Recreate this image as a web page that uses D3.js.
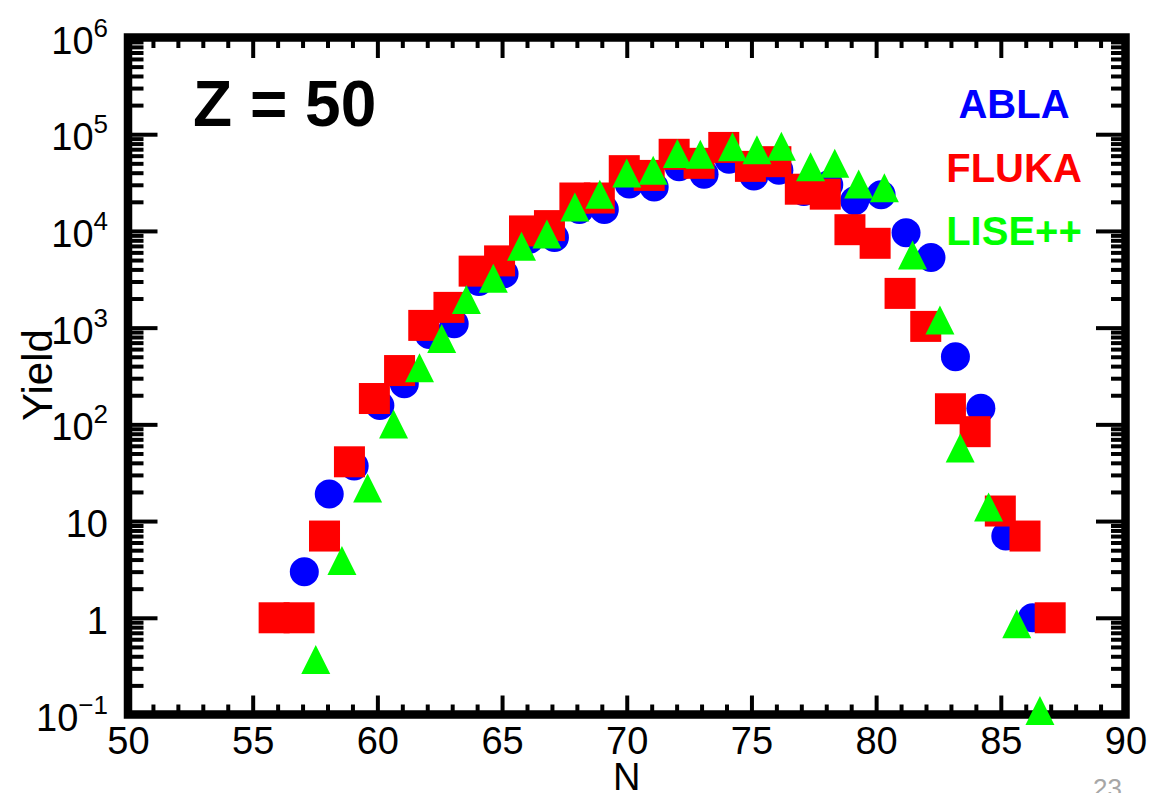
<!DOCTYPE html>
<html><head><meta charset="utf-8">
<script src="https://cdn.jsdelivr.net/npm/d3@7"></script>
<style>
body{margin:0;background:#fff}
svg{display:block}
text{font-family:"Liberation Sans",Arial,Helvetica,sans-serif}
</style>
</head><body>
<svg id="chart" width="1149" height="793"></svg>
<script>
// ---- data ----
const xTickLabels = [50,55,60,65,70,75,80,85,90];
const yTickExponents = [-1,0,1,2,3,4,5,6];
const seriesNames = ["ABLA","FLUKA","LISE++"];
const seriesColors = ["#0000ff","#ff0000","#00ff00"];

const ablaN = [57.07,58.07,59.07,60.1,61.08,62.08,63.08,64.07,65.08,66.1,67.1,68.1,69.1,70.1,71.1,72.1,73.1,74.1,75.1,76.1,77.1,78.1,79.14,80.2,81.2,82.2,83.18,84.2,85.2,86.27];
const ablaYield = [3,19,37,157,263,850,1100,3000,3600,8200,8550,16700,16700,30500,28500,46000,38500,55000,37000,42500,25500,30000,20500,23700,9600,5300,500,147,7,1];

const flukaN = [55.86,56.86,57.88,58.88,59.88,60.89,61.86,62.87,63.88,64.9,65.9,66.9,67.92,68.9,69.9,70.9,71.9,72.9,73.89,74.96,75.98,76.96,77.96,78.95,79.96,80.96,81.99,82.98,83.97,84.98,85.97,86.98];
const flukaYield = [1,1,7,41,185,360,1055,1620,3840,4900,10000,11350,21900,21900,42000,37500,62000,50000,73000,46500,52000,27000,24000,10300,7450,2260,1030,145,84,12.7,7,1];

const liseN = [57.53,58.58,59.61,60.65,61.69,62.58,63.57,64.65,65.78,66.8,67.92,68.92,70.0,71.06,72.03,72.95,74.24,75.22,76.2,77.37,78.34,79.3,80.33,81.46,82.56,83.37,84.51,85.64,86.57];
const liseYield = [0.37,3.9,22,101,385,770,1960,3250,6950,9300,17700,24000,39600,42500,63000,62000,74000,69000,75000,46000,50000,30600,28000,5650,1200,57,14,0.87,0.11];

// ---- chart ----
const svg = d3.select("#chart");
svg.append("rect").attr("width",1149).attr("height",793).attr("fill","#fff");

const x = d3.scaleLinear().domain([50,90]).range([128,1125.5]);
const y = d3.scaleLog().domain([0.1,1e6]).range([714.5,37.5]);
const [x0,x1] = x.range();
const [yB,yT] = y.range();

const minorX = d3.range(50,91).filter(d => d % 5 !== 0);
const majorY = yTickExponents.map(e => Math.pow(10,e));
const minorY = [];
for (let e=-1;e<6;e++) for (let m=2;m<=9;m++) minorY.push(m*Math.pow(10,e));

function styleAxis(g){
  g.select(".domain").remove();
  g.selectAll(".tick line").attr("stroke","#000").attr("stroke-width",4);
}

// frame
svg.append("rect").attr("x",x0).attr("y",yT).attr("width",x1-x0).attr("height",yB-yT)
  .attr("fill","none").attr("stroke","#000").attr("stroke-width",8.5);

// bottom axis
svg.append("g").attr("transform",`translate(0,${yB})`)
  .call(d3.axisBottom(x).tickValues(minorX).tickSize(-10).tickFormat("")).call(styleAxis);
const bx = svg.append("g").attr("transform",`translate(0,${yB})`)
  .call(d3.axisBottom(x).tickValues(xTickLabels).tickSize(-19).tickPadding(13).tickFormat(d3.format("d")))
  .call(styleAxis);
bx.attr("font-size",38).attr("font-family",null);
bx.selectAll(".tick text").attr("fill","#000");
// top axis
svg.append("g").attr("transform",`translate(0,${yT})`)
  .call(d3.axisTop(x).tickValues(minorX).tickSize(-10.5).tickFormat("")).call(styleAxis);
svg.append("g").attr("transform",`translate(0,${yT})`)
  .call(d3.axisTop(x).tickValues(xTickLabels).tickSize(-20.5).tickFormat("")).call(styleAxis);
// left axis
svg.append("g").attr("transform",`translate(${x0},0)`)
  .call(d3.axisLeft(y).tickValues(minorY).tickSize(-15.5).tickFormat("")).call(styleAxis);
svg.append("g").attr("transform",`translate(${x0},0)`)
  .call(d3.axisLeft(y).tickValues(majorY).tickSize(-29.5).tickFormat("")).call(styleAxis);
// right axis
svg.append("g").attr("transform",`translate(${x1},0)`)
  .call(d3.axisRight(y).tickValues(minorY).tickSize(-14.5).tickFormat("")).call(styleAxis);
svg.append("g").attr("transform",`translate(${x1},0)`)
  .call(d3.axisRight(y).tickValues(majorY).tickSize(-29.5).tickFormat("")).call(styleAxis);

// y tick labels with superscripts
const yl = svg.append("g").attr("font-size",38).attr("text-anchor","end").attr("fill","#000");
yTickExponents.forEach(e => {
  const t = yl.append("text").attr("x",108).attr("y",y(Math.pow(10,e))+16);
  if (e===0) t.text("1");
  else if (e===1) t.text("10");
  else {
    t.append("tspan").text("10");
    t.append("tspan").attr("dy",-17).attr("font-size",26).text(e<0 ? "\u2212"+(-e) : String(e));
  }
});

// axis titles
svg.append("text").attr("x",x(70)).attr("y",790).attr("text-anchor","middle")
  .attr("font-size",38).text("N");
svg.append("text").attr("transform","translate(52,375) rotate(-90)").attr("text-anchor","middle")
  .attr("font-size",42).text("Yield");

// markers
const plot = svg.append("g");
plot.append("g").selectAll("circle").data(ablaN.map((n,i)=>[n,ablaYield[i]])).join("circle")
  .attr("cx",d=>x(d[0])).attr("cy",d=>y(d[1])).attr("r",14.5).attr("fill",seriesColors[0]);
const sq = 31;
plot.append("g").selectAll("rect").data(flukaN.map((n,i)=>[n,flukaYield[i]])).join("rect")
  .attr("x",d=>x(d[0])-sq/2).attr("y",d=>y(d[1])-sq/2).attr("width",sq).attr("height",sq)
  .attr("fill",seriesColors[1]);
const tw = 29, th = 29;
plot.append("g").selectAll("path").data(liseN.map((n,i)=>[n,liseYield[i]])).join("path")
  .attr("d",d=>{const cx=x(d[0]), cy=y(d[1]);
    return `M${cx},${cy-th/2}L${cx+tw/2},${cy+th/2}L${cx-tw/2},${cy+th/2}Z`;})
  .attr("fill",seriesColors[2]);

// title & legend
svg.append("text").attr("x",193).attr("y",126).attr("font-size",64).attr("font-weight","bold")
  .attr("fill","#000").text("Z = 50");
const legendBase = [118,182,245];
seriesNames.forEach((s,i)=>{
  svg.append("text").attr("x",1014).attr("y",legendBase[i]).attr("text-anchor","middle")
    .attr("font-size",40).attr("font-weight","bold").attr("fill",seriesColors[i]).text(s);
});

// slide page number
svg.append("text").attr("x",1122).attr("y",797).attr("text-anchor","end")
  .attr("font-size",26).attr("fill","#a6a6a6").text("23");
</script>
</body></html>
